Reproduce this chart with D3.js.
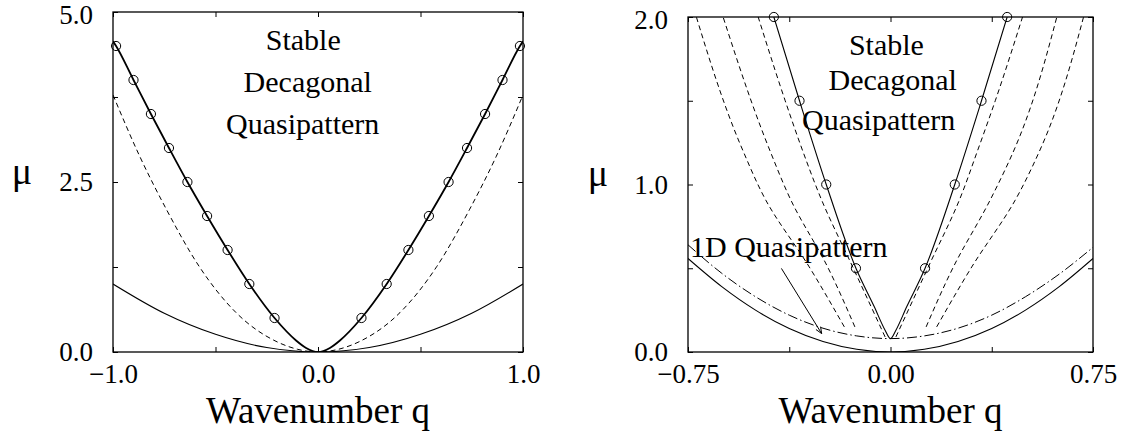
<!DOCTYPE html>
<html><head><meta charset="utf-8">
<script src="https://cdn.jsdelivr.net/npm/d3@7"></script>
<style>
body{margin:0;background:#fff}
svg{display:block}
text{font-family:"Liberation Serif","Times New Roman",serif;fill:#000}
</style>
</head><body>
<svg id="chart" width="1122" height="433"></svg>
<script>
// ---------------- DATA ----------------
// Left panel
const L_xTicks = [-1, -0.5, 0, 0.5, 1];
const L_xLabels = ["\u22121.0", "", "0.0", "", "1.0"];
const L_yTicks = [0, 1.25, 2.5, 3.75, 5];
const L_yLabels = ["0.0", "", "2.5", "", "5.0"];

const L_circQ  = [-0.985, -0.9, -0.815, -0.727, -0.637, -0.541, -0.441, -0.335, -0.212, 0.212, 0.335, 0.441, 0.541, 0.637, 0.727, 0.815, 0.9, 0.985];
const L_circMu = [4.5, 4.0, 3.5, 3.0, 2.5, 2.0, 1.5, 1.0, 0.5, 0.5, 1.0, 1.5, 2.0, 2.5, 3.0, 3.5, 4.0, 4.5];

const L_thickQ  = [-1, -0.985, -0.9, -0.815, -0.727, -0.637, -0.541, -0.441, -0.335, -0.212, -0.107, -0.058, 0, 0.058, 0.107, 0.212, 0.335, 0.441, 0.541, 0.637, 0.727, 0.815, 0.9, 0.985, 1];
const L_thickMu = [4.57, 4.5, 4.0, 3.5, 3.0, 2.5, 2.0, 1.5, 1.0, 0.5, 0.17, 0.06, 0, 0.06, 0.17, 0.5, 1.0, 1.5, 2.0, 2.5, 3.0, 3.5, 4.0, 4.5, 4.57];

const L_dashQ  = [-1, -0.87, -0.74, -0.58, -0.4, -0.2, -0.1, 0, 0.1, 0.2, 0.4, 0.58, 0.74, 0.87, 1];
const L_dashMu = [3.78, 2.88, 2.1, 1.26, 0.58, 0.15, 0.04, 0, 0.04, 0.15, 0.58, 1.26, 2.1, 2.88, 3.78];

const L_thinQ  = [-1, -0.75, -0.5, -0.25, 0, 0.25, 0.5, 0.75, 1];
const L_thinMu = [1.0, 0.57, 0.26, 0.065, 0, 0.065, 0.26, 0.57, 1.0];

// Right panel
const R_xTicks = [-0.75, -0.375, 0, 0.375, 0.75];
const R_xLabels = ["\u22120.75", "", "0.00", "", "0.75"];
const R_yTicks = [0, 0.5, 1, 1.5, 2];
const R_yLabels = ["0.0", "", "1.0", "", "2.0"];

const R_circQ  = [-0.432, -0.337, -0.238, -0.128, 0.128, 0.238, 0.337, 0.432];
const R_circMu = [2.0, 1.5, 1.0, 0.5, 0.5, 1.0, 1.5, 2.0];

const R_vQ  = [-0.432, -0.337, -0.238, -0.128, -0.06, -0.02, 0, 0.02, 0.06, 0.128, 0.238, 0.337, 0.432];
const R_vMu = [2.0, 1.5, 1.0, 0.5, 0.27, 0.13, 0.08, 0.13, 0.27, 0.5, 1.0, 1.5, 2.0];

const R_paraQ  = [-0.75, -0.625, -0.5, -0.375, -0.25, -0.125, 0, 0.125, 0.25, 0.375, 0.5, 0.625, 0.75];
const R_paraMu = [0.558, 0.39, 0.25, 0.14, 0.0625, 0.016, 0, 0.016, 0.0625, 0.14, 0.25, 0.39, 0.558];

const R_dotQ  = [-0.75, -0.625, -0.5, -0.375, -0.25, -0.125, 0, 0.125, 0.25, 0.375, 0.5, 0.625, 0.75];
const R_dotMu = [0.64, 0.47, 0.33, 0.22, 0.142, 0.096, 0.08, 0.096, 0.142, 0.22, 0.33, 0.465, 0.625];

// dashed stability boundaries (each branch, ordered by mu)
const R_dashInLQ  = [-0.02, -0.14, -0.255, -0.325, -0.39, -0.49];
const R_dashInLMu = [0.09, 0.508, 0.907, 1.2, 1.5, 2.0];
const R_dashMidLQ  = [-0.132, -0.233, -0.369, -0.446, -0.62];
const R_dashMidLMu = [0.15, 0.508, 0.907, 1.2, 2.0];
const R_dashOutLQ  = [-0.171, -0.301, -0.462, -0.546, -0.719];
const R_dashOutLMu = [0.15, 0.508, 0.907, 1.2, 2.0];
const R_dashInRQ  = [0.02, 0.14, 0.255, 0.322, 0.388, 0.489];
const R_dashInRMu = [0.09, 0.508, 0.907, 1.2, 1.5, 2.0];
const R_dashMidRQ  = [0.132, 0.233, 0.369, 0.456, 0.616];
const R_dashMidRMu = [0.15, 0.508, 0.907, 1.2, 2.0];
const R_dashOutRQ  = [0.171, 0.301, 0.462, 0.552, 0.715];
const R_dashOutRMu = [0.15, 0.508, 0.907, 1.2, 2.0];

// annotations (data units)
const L_textLines = ["Stable", "Decagonal", "Quasipattern"];
const L_textQ  = [-0.072, -0.05, -0.075];
const L_textMu = [4.44, 3.83, 3.2];
const R_textLines = ["Stable", "Decagonal", "Quasipattern"];
const R_textQ  = [-0.015, 0.008, -0.044];
const R_textMu = [1.775, 1.565, 1.325];
const R_label1D = "1D Quasipattern";
const R_label1DQ = -0.75, R_label1DMu = 0.57;
const R_arrowQ  = [-0.404, -0.255];
const R_arrowMu = [0.499, 0.11];

const xTitle = "Wavenumber q";
const yTitle = "\u03bc";

// ---------------- DRAW ----------------
const FONT = '"Liberation Serif", "Times New Roman", serif';
const svg = d3.select("#chart");
const zip = (a, b) => a.map((v, i) => [v, b[i]]);

function panel(opt) {
  const x = d3.scaleLinear().domain(opt.xDomain).range([opt.x0, opt.x1]);
  const y = d3.scaleLinear().domain(opt.yDomain).range([opt.y1, opt.y0]);
  const g = svg.append("g");
  const clipId = "clip" + opt.id;
  svg.append("clipPath").attr("id", clipId).append("rect")
    .attr("x", opt.x0).attr("y", opt.y0).attr("width", opt.x1 - opt.x0).attr("height", opt.y1 - opt.y0);

  const fmt = (ticks, labels) => d => { const i = ticks.indexOf(d); return i >= 0 ? labels[i] : ""; };

  const ax = (gen, tr) => {
    const a = g.append("g").attr("transform", tr).call(gen);
    a.attr("font-family", null).attr("font-size", null);
    a.select(".domain").remove();
    a.selectAll(".tick line").attr("stroke", "#000").attr("stroke-width", 1);
    a.selectAll("text").style("font-family", FONT).style("font-size", "27px").attr("fill", "#000");
    return a;
  };
  ax(d3.axisBottom(x).tickValues(opt.xTicks).tickFormat(fmt(opt.xTicks, opt.xLabels)).tickSizeInner(-5).tickSizeOuter(0).tickPadding(12), `translate(0,${opt.y1})`);
  ax(d3.axisTop(x).tickValues(opt.xTicks).tickFormat("").tickSizeInner(-5).tickSizeOuter(0), `translate(0,${opt.y0})`);
  const ya = ax(d3.axisLeft(y).tickValues(opt.yTicks).tickFormat(fmt(opt.yTicks, opt.yLabels)).tickSizeInner(-5).tickSizeOuter(0).tickPadding(20), `translate(${opt.x0},0)`);
  // keep the top label inside the picture
  ya.selectAll(".tick").filter(d => d === opt.yDomain[1]).select("text").attr("dy", "0.42em");
  ax(d3.axisRight(y).tickValues(opt.yTicks).tickFormat("").tickSizeInner(-5).tickSizeOuter(0), `translate(${opt.x1},0)`);

  g.append("rect").attr("x", opt.x0).attr("y", opt.y0).attr("width", opt.x1 - opt.x0).attr("height", opt.y1 - opt.y0)
    .attr("fill", "none").attr("stroke", "#000").attr("stroke-width", 1.3);

  const plot = g.append("g").attr("clip-path", `url(#${clipId})`);
  const lineX = d3.line().x(d => x(d[0])).y(d => y(d[1])).curve(d3.curveMonotoneX);
  const lineY = d3.line().x(d => x(d[0])).y(d => y(d[1])).curve(d3.curveMonotoneY);
  opt.series.forEach(s => {
    plot.append("path").datum(zip(s.q, s.mu))
      .attr("d", s.byY ? lineY : lineX)
      .attr("fill", "none").attr("stroke", "#000")
      .attr("stroke-width", s.w).attr("stroke-dasharray", s.dash || null);
  });
  const cg = g.append("g");
  cg.selectAll("circle").data(zip(opt.circQ, opt.circMu)).join("circle")
    .attr("cx", d => x(d[0])).attr("cy", d => y(d[1])).attr("r", 4.6)
    .attr("fill", "none").attr("stroke", "#000").attr("stroke-width", 1);

  // annotation text
  g.selectAll("text.ann").data(opt.textLines).join("text").attr("class", "ann")
    .attr("x", (d, i) => x(opt.textQ[i])).attr("y", (d, i) => y(opt.textMu[i]))
    .attr("text-anchor", "middle").style("font-family", FONT).style("font-size", "30px").text(d => d);

  // axis titles
  g.append("text").attr("x", (opt.x0 + opt.x1) / 2).attr("y", opt.titleY)
    .attr("text-anchor", "middle").style("font-family", FONT).style("font-size", "37px").text(xTitle);
  g.append("text").attr("x", opt.muX).attr("y", opt.muY)
    .attr("text-anchor", "middle").style("font-family", FONT).style("font-size", "38px").text(yTitle);
  return {x, y, g};
}

const left = panel({
  id: "L", x0: 113, x1: 523, y0: 12, y1: 352,
  xDomain: [-1, 1], yDomain: [0, 5],
  xTicks: L_xTicks, xLabels: L_xLabels, yTicks: L_yTicks, yLabels: L_yLabels,
  circQ: L_circQ, circMu: L_circMu,
  series: [
    {q: L_thinQ, mu: L_thinMu, w: 1.1},
    {q: L_dashQ, mu: L_dashMu, w: 1, dash: "5,3.5"},
    {q: L_thickQ, mu: L_thickMu, w: 1.8}
  ],
  textLines: L_textLines, textQ: L_textQ, textMu: L_textMu,
  titleY: 423, muX: 22, muY: 184
});

const right = panel({
  id: "R", x0: 688, x1: 1093, y0: 17, y1: 352,
  xDomain: [-0.75, 0.75], yDomain: [0, 2],
  xTicks: R_xTicks, xLabels: R_xLabels, yTicks: R_yTicks, yLabels: R_yLabels,
  circQ: R_circQ, circMu: R_circMu,
  series: [
    {q: R_paraQ, mu: R_paraMu, w: 1.1},
    {q: R_dotQ, mu: R_dotMu, w: 1, dash: "10,3,1.5,3"},
    {q: R_dashInLQ, mu: R_dashInLMu, w: 1, dash: "5,3.5", byY: true},
    {q: R_dashMidLQ, mu: R_dashMidLMu, w: 1, dash: "5,3.5", byY: true},
    {q: R_dashOutLQ, mu: R_dashOutLMu, w: 1, dash: "5,3.5", byY: true},
    {q: R_dashInRQ, mu: R_dashInRMu, w: 1, dash: "5,3.5", byY: true},
    {q: R_dashMidRQ, mu: R_dashMidRMu, w: 1, dash: "5,3.5", byY: true},
    {q: R_dashOutRQ, mu: R_dashOutRMu, w: 1, dash: "5,3.5", byY: true},
    {q: R_vQ, mu: R_vMu, w: 1.1}
  ],
  textLines: R_textLines, textQ: R_textQ, textMu: R_textMu,
  titleY: 423, muX: 598, muY: 186
});

// 1D label + arrow
right.g.append("text").attr("x", right.x(R_label1DQ) + 2).attr("y", right.y(R_label1DMu))
  .style("font-family", FONT).style("font-size", "30px").text(R_label1D);
const ax0 = right.x(R_arrowQ[0]), ay0 = right.y(R_arrowMu[0]);
const ax1 = right.x(R_arrowQ[1]), ay1 = right.y(R_arrowMu[1]);
right.g.append("line").attr("x1", ax0).attr("y1", ay0).attr("x2", ax1).attr("y2", ay1)
  .attr("stroke", "#000").attr("stroke-width", 1);
const ang = Math.atan2(ay1 - ay0, ax1 - ax0), hl = 7, ha = 0.4;
right.g.append("path")
  .attr("d", `M${ax1 - hl * Math.cos(ang - ha)},${ay1 - hl * Math.sin(ang - ha)}L${ax1},${ay1}L${ax1 - hl * Math.cos(ang + ha)},${ay1 - hl * Math.sin(ang + ha)}`)
  .attr("fill", "none").attr("stroke", "#000").attr("stroke-width", 1);
</script>
</body></html>
